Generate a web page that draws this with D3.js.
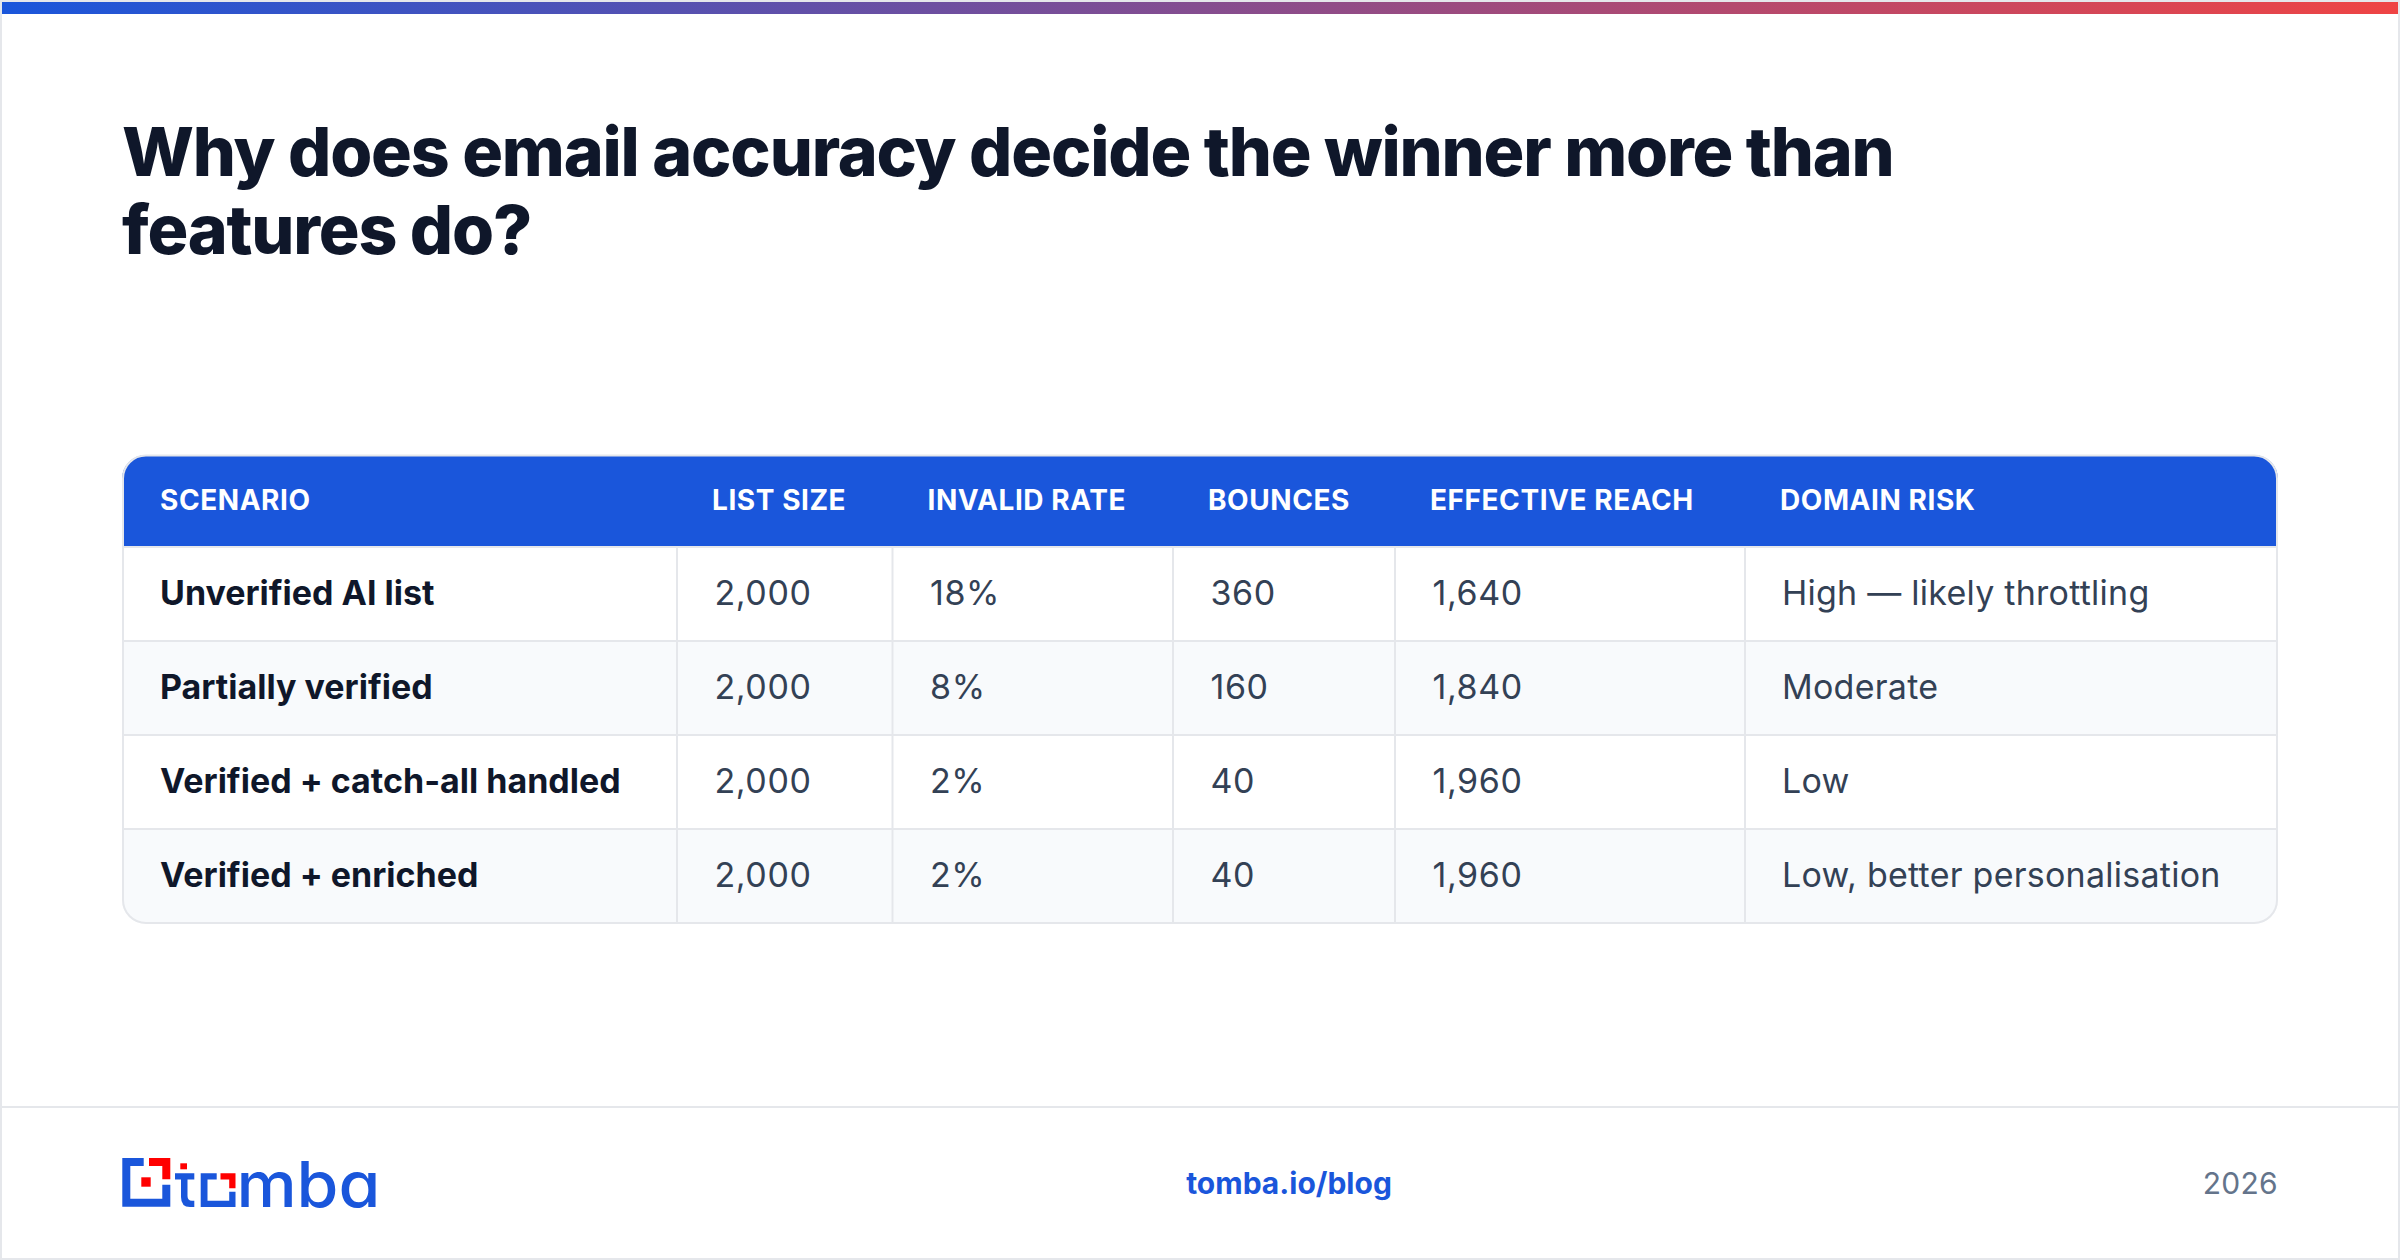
<!DOCTYPE html>
<html>
<head>
<meta charset="utf-8">
<script src="https://cdn.jsdelivr.net/npm/d3@7"></script>
<style>
  html, body { margin: 0; padding: 0; background: #fff; }
  svg { display: block; font-family: Inter, sans-serif; }
</style>
</head>
<body>
<svg id="chart" width="2400" height="1260"></svg>
<script>
// table contents
var headers = ["SCENARIO", "LIST SIZE", "INVALID RATE", "BOUNCES", "EFFECTIVE REACH", "DOMAIN RISK"];
var scenarios = ["Unverified AI list", "Partially verified", "Verified + catch-all handled", "Verified + enriched"];
var listSize = [2000, 2000, 2000, 2000];
var invalidRate = [18, 8, 2, 2];
var bounces = [360, 160, 40, 40];
var reach = [1640, 1840, 1960, 1960];
var risk = ["High — likely throttling", "Moderate", "Low", "Low, better personalisation"];
var titleLines = ["Why does email accuracy decide the winner more than", "features do?"];

var svg = d3.select("#chart");
var border = "#e5e7eb";
var blue = "#1a56db";

// gradient for top bar
var grad = svg.append("defs").append("linearGradient").attr("id", "topbar");
grad.append("stop").attr("offset", "0%").attr("stop-color", blue);
grad.append("stop").attr("offset", "100%").attr("stop-color", "#ef4444");

// page frame
svg.append("rect").attr("x", 1).attr("y", 1).attr("width", 2398).attr("height", 1258)
   .attr("fill", "#fff").attr("stroke", border).attr("stroke-width", 2);
svg.append("rect").attr("x", 2).attr("y", 2).attr("width", 2396).attr("height", 12)
   .attr("fill", "url(#topbar)");

// title
svg.selectAll("text.title")
   .data(titleLines)
   .join("text")
   .attr("class", "title")
   .attr("x", 122)
   .attr("y", (d, i) => 176 + i * 78)
   .attr("font-size", 68)
   .attr("font-weight", 800)
   .attr("letter-spacing", -1.2)
   .attr("fill", "#0f172a")
   .text(d => d);

// table scales
var colEdges = [122, 677, 892.5, 1173, 1395, 1745];
var tableLeft = 122, tableRight = 2278, headTop = 455, headBottom = 546, tableBottom = 923;
var xCol = d3.scaleOrdinal(headers, colEdges);
var yRow = d3.scaleBand(scenarios, [headBottom + 1, tableBottom]);
var clip = svg.select("defs").append("clipPath").attr("id", "tableclip");
clip.append("rect").attr("x", tableLeft).attr("y", headTop).attr("width", tableRight - tableLeft)
    .attr("height", tableBottom - headTop + 1).attr("rx", 24);

var table = svg.append("g").attr("clip-path", "url(#tableclip)");

// row backgrounds
table.selectAll("rect.row")
     .data(scenarios)
     .join("rect")
     .attr("class", "row")
     .attr("x", tableLeft)
     .attr("y", d => yRow(d))
     .attr("width", tableRight - tableLeft)
     .attr("height", yRow.bandwidth())
     .attr("fill", (d, i) => i % 2 ? "#f8fafc" : "#fff");

// header band
table.append("rect").attr("x", tableLeft).attr("y", headTop).attr("width", tableRight - tableLeft)
     .attr("height", headBottom - headTop).attr("fill", blue);

// row lines
table.selectAll("line.rowline")
     .data(scenarios)
     .join("line")
     .attr("class", "rowline")
     .attr("x1", tableLeft).attr("x2", tableRight)
     .attr("y1", d => yRow(d)).attr("y2", d => yRow(d))
     .attr("stroke", border).attr("stroke-width", 2);

// column lines
table.selectAll("line.colline")
     .data(headers.slice(1))
     .join("line")
     .attr("class", "colline")
     .attr("x1", d => xCol(d)).attr("x2", d => xCol(d))
     .attr("y1", headBottom).attr("y2", tableBottom)
     .attr("stroke", border).attr("stroke-width", 2);

// outer border, sits inside the table box
svg.append("rect").attr("x", tableLeft + 1).attr("y", headTop + 0.5)
   .attr("width", tableRight - tableLeft - 2).attr("height", tableBottom - headTop - 0.5).attr("rx", 23)
   .attr("fill", "none").attr("stroke", border).attr("stroke-width", 2);

// header text
svg.selectAll("text.head")
   .data(headers)
   .join("text")
   .attr("class", "head")
   .attr("x", (d, i) => xCol(d) + (i ? 35 : 38))
   .attr("y", 510)
   .attr("font-size", 28)
   .attr("font-weight", 700)
   .attr("letter-spacing", 0.56)
   .attr("fill", "#fff")
   .text(d => d);

// body cells
var fmt = d3.format(",");
var columns = [
  scenarios,
  listSize.map(fmt),
  invalidRate.map(d => d + "%"),
  bounces.map(fmt),
  reach.map(fmt),
  risk
];
columns.forEach(function(values, c) {
  svg.selectAll("text.col" + c)
     .data(values)
     .join("text")
     .attr("class", "col" + c)
     .attr("x", xCol(headers[c]) + (c == 0 ? 38 : (c == 5 ? 37 : 37.5)))
     .attr("y", (d, i) => yRow(scenarios[i]) + yRow.bandwidth() / 2 + 10.5)
     .attr("font-size", 34)
     .attr("font-weight", c ? 400 : 700)
     .attr("letter-spacing", c == 0 ? 0 : (c == 5 ? 0.25 : 0.6))
     .attr("fill", c ? "#334155" : "#0f172a")
     .text(d => d);
});

// footer
svg.append("line").attr("x1", 2).attr("x2", 2398).attr("y1", 1107).attr("y2", 1107)
   .attr("stroke", border).attr("stroke-width", 2);
svg.append("text").attr("x", 1289).attr("y", 1194).attr("text-anchor", "middle")
   .attr("font-size", 30).attr("font-weight", 700).attr("fill", blue).text("tomba.io/blog");
svg.append("text").attr("x", 2278).attr("y", 1194).attr("text-anchor", "end")
   .attr("font-size", 30).attr("letter-spacing", 0.3).attr("fill", "#64748b").text("2026");

// logo: square mark, t and o are custom shapes, the rest is type
var red = "#ff0000";
var logoParts = [
  {fill: blue, d: "M122.3 1158H143.7V1166H130.3V1198.7H162.3V1184.7H170.3V1206.7H122.3Z"},
  {fill: red, d: "M149 1158H170.3V1179.3H162.3V1166H149Z"},
  {fill: red, d: "M141.3 1177.3H150.7V1186.7H141.3Z"},
  {fill: red, d: "M180.3 1163.3H187V1169.3H180.3Z"},
  {fill: blue, d: "M175 1173.3H194.3V1179.5H187.5V1196Q187.5 1200.7 192 1200.7H194.3V1207H190Q181 1207 181 1197V1179.5H175Z"},
  {fill: blue, d: "M200.7 1173.3H216.7V1179.5H207.5V1200.7H229.2V1191.7H235.5V1207H200.7Z"},
  {fill: red, d: "M220.5 1173.3H235.5V1188.3H229.2V1179.5H220.5Z"}
];
var logo = svg.append("g").attr("class", "logo");
logo.selectAll("path")
    .data(logoParts)
    .join("path")
    .attr("fill", d => d.fill)
    .attr("d", d => d.d);
logo.append("text")
    .attr("x", 236.4)
    .attr("y", 1206.7)
    .attr("font-size", 63)
    .attr("font-weight", 550)
    .attr("textLength", 144)
    .attr("lengthAdjust", "spacingAndGlyphs")
    .style("font-feature-settings", "'cv11' 1")
    .attr("fill", blue)
    .text("mba");
</script>
</body>
</html>
